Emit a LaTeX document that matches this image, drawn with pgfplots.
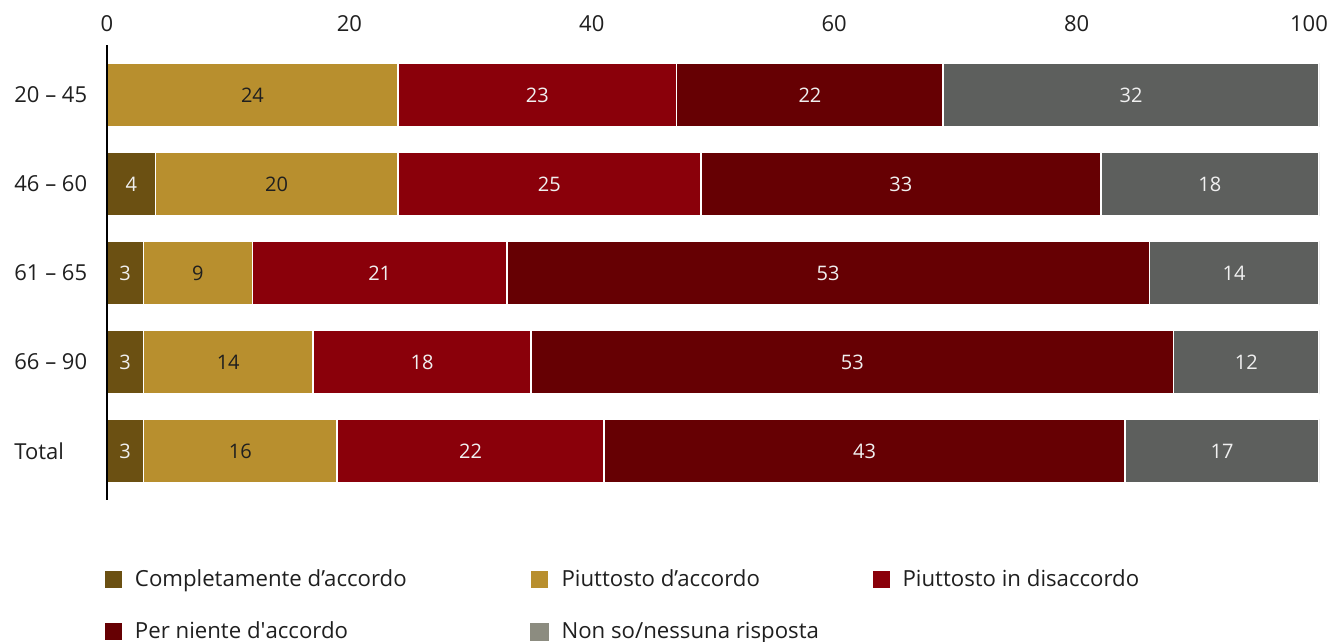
\documentclass[border=0pt]{standalone}
\usepackage{fontspec}
\setmainfont{Open Sans}
\usepackage{pgfplots}
\usepackage{pgfplotstable}
\pgfplotsset{compat=1.18}
\definecolor{cA}{HTML}{6B5012}
\definecolor{cB}{HTML}{B88F2E}
\definecolor{cC}{HTML}{8A000A}
\definecolor{cD}{HTML}{660003}
\definecolor{cE}{HTML}{5D5F5D}
\definecolor{cEl}{HTML}{8C8C80}
\definecolor{txt}{HTML}{1F1F1F}
\definecolor{wtxt}{HTML}{F0F0F0}
% w = drawn width, lab = printed value
\pgfplotstableread{
y w lab
0 0 {}
1 4 4
2 3 3
3 3 3
4 3 3
}\tA
\pgfplotstableread{
y w lab
0 24 24
1 20 20
2 9 9
3 14 14
4 16 16
}\tB
\pgfplotstableread{
y w lab
0 23 23
1 25 25
2 21 21
3 18 18
4 22 22
}\tC
\pgfplotstableread{
y w lab
0 22 22
1 33 33
2 53 53
3 53 53
4 43 43
}\tD
\pgfplotstableread{
y w lab
0 31 32
1 18 18
2 14 14
3 12 12
4 16 17
}\tE
\begin{document}
\begin{tikzpicture}
\begin{axis}[
  at={(0,0)}, anchor=north west,
  scale only axis, width=606pt, height=227.5pt,
  xbar stacked, bar width=0.72,
  xmin=0, xmax=100, ymin=-0.56, ymax=4.55, y dir=reverse,
  xtick={0,20,...,100}, ytick={0,...,4},
  xticklabels={0,20,40,60,80,\hspace*{-10pt}100},
  yticklabels={20 -- 45,46 -- 60,61 -- 65,66 -- 90,Total},
  axis x line*=top, axis y line*=left,
  x axis line style={draw=none},
  y axis line style={black, line width=0.9pt},
  major tick length=0pt,
  tick label style={font=\fontsize{11}{13}\selectfont, text=txt},
  /pgf/number format/assume math mode=true,
  xticklabel style={yshift=3pt},
  yticklabel style={anchor=west, inner sep=0pt, xshift=-46.5pt},
  axis on top,
  every axis plot/.append style={draw=white, line width=0.8pt},
  point meta=explicit symbolic,
  nodes near coords,
  every node near coord/.append style={anchor=center, font=\fontsize{10}{12}\selectfont},
  legend columns=3,
  legend style={draw=none, at={(0,0)}, anchor=north west, yshift=-35pt, xshift=-1pt, inner sep=0pt, outer sep=0pt, column sep=0pt, row sep=16pt, font=\fontsize{11.1}{13}\selectfont, text=txt, nodes={inner sep=0pt, anchor=west}},
  legend image code/.code={\fill[#1, draw=none] (0pt,-4.25pt) rectangle (8.5pt,4.25pt);},
]
\addplot[fill=cA, every node near coord/.append style={text=wtxt}] table[x=w, y=y, meta=lab] {\tA};
\addlegendentry{\hspace*{6.5pt}\makebox[197.5pt][l]{Completamente d’accordo}}
\addplot[fill=cB, every node near coord/.append style={text=txt}] table[x=w, y=y, meta=lab] {\tB};
\addlegendentry{\hspace*{6.5pt}\makebox[155.5pt][l]{Piuttosto d’accordo}}
\addplot[fill=cC, every node near coord/.append style={text=wtxt}] table[x=w, y=y, meta=lab] {\tC};
\addlegendentry{\hspace*{6.5pt}Piuttosto in disaccordo}
\addplot[fill=cD, every node near coord/.append style={text=wtxt}] table[x=w, y=y, meta=lab] {\tD};
\addlegendentry{\hspace*{6.5pt}\makebox[197.5pt][l]{Per niente d\textquotesingle accordo}}
\addplot[fill=cE, every node near coord/.append style={text=wtxt}, legend image code/.code={\fill[cEl] (0pt,-4.25pt) rectangle (8.5pt,4.25pt);}] table[x=w, y=y, meta=lab] {\tE};
\addlegendentry{\hspace*{6.5pt}\makebox[155.5pt][l]{Non so/nessuna risposta}}
\end{axis}
\pgfresetboundingbox
\useasboundingbox (-53.5pt,22.5pt) rectangle (613pt,-298.5pt);
\end{tikzpicture}
\end{document}
